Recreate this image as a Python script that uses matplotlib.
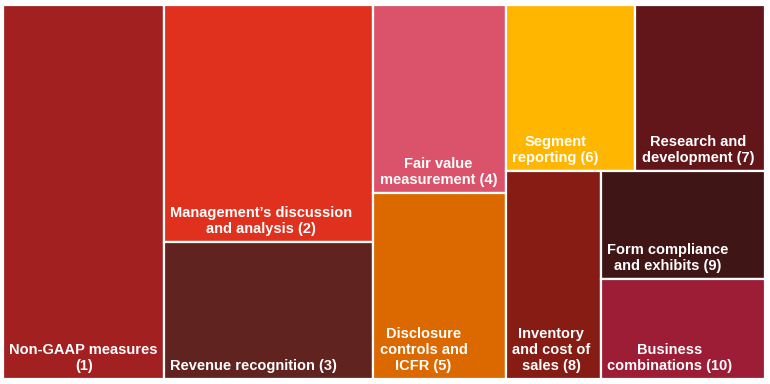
#!/usr/bin/env python3
"""Treemap of top comment areas, drawn with plain matplotlib rectangles."""

import matplotlib

matplotlib.use("Agg")
import matplotlib.pyplot as plt
from matplotlib.patches import Rectangle

LABELS = [
    "Non-GAAP measures\n(1)",
    "Management\u2019s discussion\nand analysis (2)",
    "Revenue recognition (3)",
    "Fair value\nmeasurement (4)",
    "Disclosure\ncontrols and\nICFR (5)",
    "Segment\nreporting (6)",
    "Research and\ndevelopment (7)",
    "Inventory\nand cost of\nsales (8)",
    "Form compliance\nand exhibits (9)",
    "Business\ncombinations (10)",
]
VALUES = [21.0, 17.3, 10.0, 8.7, 8.6, 7.5, 7.5, 6.9, 6.2, 5.7]
COLORS = [
    "#A32020", "#E0301E", "#602320", "#DB536A", "#DC6900",
    "#FFB600", "#63161A", "#861C14", "#3F1516", "#9C1D35",
]

# nesting of the tiles; direction alternates per level (first split along x)
TREE = [0, [1, 2], [3, 4], [[5, 6], [7, [8, 9]]]]


def node_sum(node):
    if isinstance(node, int):
        return VALUES[node]
    return sum(node_sum(n) for n in node)


def layout(node, x, y, w, h, along_x, out):
    if isinstance(node, int):
        out[node] = (x, y, w, h)
        return
    total = node_sum(node)
    pos = 0.0
    for child in node:
        frac = node_sum(child) / total
        if along_x:
            layout(child, x + pos * w, y, w * frac, h, not along_x, out)
        else:
            layout(child, x, y + pos * h, w, h * frac, not along_x, out)
        pos += frac


def main():
    plt.rcParams["font.family"] = ["Liberation Sans", "DejaVu Sans"]
    fig = plt.figure(figsize=(7.70, 3.84), dpi=100)
    ax = fig.add_axes([3 / 770, 5 / 384, 762 / 770, 374 / 384])

    rects = {}
    layout(TREE, 0.0, 0.0, 1.0, 1.0, True, rects)

    for i, (x, y, w, h) in sorted(rects.items()):
        ax.add_patch(Rectangle((x, y), w, h, facecolor=COLORS[i],
                               edgecolor="white", linewidth=1.6))
        ax.annotate(LABELS[i], xy=(x, y + h), xytext=(4.6, 4.5),
                    textcoords="offset points", ha="left", va="bottom",
                    multialignment="center", color="white",
                    fontsize=10.5, fontweight="bold", linespacing=1.15)

    ax.set_xlim(0, 1)
    ax.set_ylim(1, 0)
    ax.axis("off")
    fig.savefig("out.png", dpi=100, facecolor="white")


if __name__ == "__main__":
    main()
